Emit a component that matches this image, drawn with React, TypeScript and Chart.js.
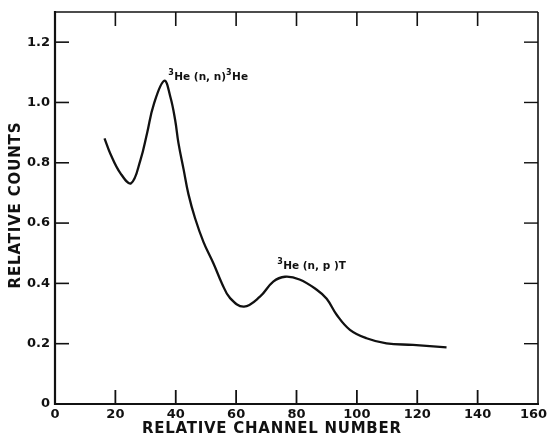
import React, { useEffect, useRef } from "react";
import { Chart, registerables } from "chart.js";

Chart.register(...registerables);

// ---- data ----
const channel = [16.4, 18.3, 21.7, 25.2, 28.3, 30.5, 32.7, 36.2, 38.2, 39.8, 40.9, 42.6, 44.2, 46.4, 49.2, 52.5, 55.3, 58.0, 62.6, 67.9, 72.3, 76.2, 81.0, 86.7, 90.0, 93.3, 97.7, 103.2, 109.8, 118.6, 129.7];
const counts = [0.881, 0.831, 0.765, 0.732, 0.809, 0.898, 0.993, 1.072, 1.019, 0.942, 0.865, 0.778, 0.696, 0.616, 0.537, 0.466, 0.4, 0.351, 0.323, 0.356, 0.406, 0.422, 0.413, 0.379, 0.349, 0.296, 0.246, 0.218, 0.201, 0.196, 0.188];
const xTicks = [0, 20, 40, 60, 80, 100, 120, 140, 160];
const yTicks = [0, 0.2, 0.4, 0.6, 0.8, 1.0, 1.2];
const xTitle = "RELATIVE CHANNEL NUMBER";
const yTitle = "RELATIVE COUNTS";
// annotation text pieces: [text, isSuperscript]
const label1: [string, boolean][] = [["3", true], ["He (n, n)", false], ["3", true], ["He", false]];
const label2: [string, boolean][] = [["3", true], ["He (n, p )T", false]];
// annotation anchors in data units
const label1At = { x: 37.5, y: 1.075 };
const label2At = { x: 73.6, y: 0.449 };

const INK = "#111";
const FONT = "'DejaVu Sans', Verdana, sans-serif";

function drawSpaced(ctx: CanvasRenderingContext2D, text: string, cx: number, cy: number, target: number) {
  (ctx as any).letterSpacing = "0px";
  const w0 = ctx.measureText(text).width;
  const ls = (target - w0) / (text.length - 1);
  (ctx as any).letterSpacing = ls + "px";
  const w = ctx.measureText(text).width - ls;
  ctx.textAlign = "left";
  ctx.textBaseline = "middle";
  ctx.fillText(text, cx - w / 2, cy);
  (ctx as any).letterSpacing = "0px";
}

function drawParts(ctx: CanvasRenderingContext2D, parts: [string, boolean][], x: number, y: number) {
  let px = x;
  ctx.textBaseline = "alphabetic";
  ctx.textAlign = "left";
  for (const [t, sup] of parts) {
    ctx.font = sup ? `bold 8px ${FONT}` : `bold 10.5px ${FONT}`;
    ctx.fillText(t, px, sup ? y - 5 : y);
    px += ctx.measureText(t).width + (sup ? 0.5 : 0);
  }
}

const decor = {
  id: "decor",
  afterDraw(chart: any) {
    const { ctx, chartArea: a, scales } = chart;
    const xs = scales.x;
    const ys = scales.y;
    ctx.save();
    ctx.strokeStyle = INK;
    ctx.fillStyle = INK;
    ctx.lineCap = "butt";
    const line = (x1: number, y1: number, x2: number, y2: number, w: number) => {
      ctx.lineWidth = w;
      ctx.beginPath();
      ctx.moveTo(x1, y1);
      ctx.lineTo(x2, y2);
      ctx.stroke();
    };
    // frame
    line(a.left, a.top - 1, a.left, a.bottom + 1, 2.2);
    line(a.left - 1, a.bottom, a.right + 1, a.bottom, 2.2);
    line(a.left, a.top, a.right, a.top, 1.6);
    line(a.right, a.top, a.right, a.bottom, 1.6);
    // inward ticks
    const L = 14;
    for (const v of xTicks) {
      if (v === xTicks[0] || v === xTicks[xTicks.length - 1]) continue;
      const px = xs.getPixelForValue(v);
      line(px, a.bottom, px, a.bottom - L, 1.8);
      line(px, a.top, px, a.top + L, 1.6);
    }
    for (const v of yTicks) {
      if (v === 0) continue;
      const py = ys.getPixelForValue(v);
      line(a.left, py, a.left + L, py, 1.6);
      line(a.right, py, a.right - L, py, 1.4);
    }
    // axis titles
    ctx.font = `bold 15px ${FONT}`;
    drawSpaced(ctx, xTitle, 271.5, 429.5, 259);
    ctx.save();
    ctx.translate(16, 205.5);
    ctx.rotate(-Math.PI / 2);
    drawSpaced(ctx, yTitle, 0, 0, 166);
    ctx.restore();
    // annotations
    drawParts(ctx, label1, xs.getPixelForValue(label1At.x), ys.getPixelForValue(label1At.y));
    drawParts(ctx, label2, xs.getPixelForValue(label2At.x), ys.getPixelForValue(label2At.y));
    ctx.restore();
  },
};

export default function App() {
  const ref = useRef<HTMLCanvasElement | null>(null);
  useEffect(() => {
    if (!ref.current) return;
    const chart = new Chart(ref.current, {
      type: "line",
      data: {
        datasets: [
          {
            data: channel.map((x, i) => ({ x, y: counts[i] })),
            borderColor: INK,
            borderWidth: 2.3,
            pointRadius: 0,
            fill: false,
            tension: 0.4,
          } as any,
        ],
      },
      options: {
        animation: false,
        responsive: false,
        layout: { padding: { top: 12, right: 9, left: 0, bottom: 0 } },
        plugins: { legend: { display: false }, tooltip: { enabled: false } },
        scales: {
          x: {
            type: "linear",
            min: 0,
            max: 160,
            afterBuildTicks: (s: any) => {
              s.ticks = xTicks.map((v) => ({ value: v }));
            },
            afterFit: (s: any) => {
              s.height = 35;
              s.paddingLeft = 0;
              s.paddingRight = 0;
            },
            grid: { display: false, drawTicks: false },
            border: { display: false },
            ticks: {
              padding: 3,
              color: INK,
              maxRotation: 0,
              autoSkip: false,
              font: { family: FONT, size: 13, weight: "bold" },
              // the last label sits against the page edge, as in the reference
              callback: (v: any) => (Number(v) === xTicks[xTicks.length - 1] ? String(v) + "\u2002\u2009" : String(v)),
            },
          },
          y: {
            type: "linear",
            min: 0,
            max: 1.3,
            afterBuildTicks: (s: any) => {
              s.ticks = yTicks.map((v) => ({ value: v }));
            },
            afterFit: (s: any) => {
              s.width = 55;
              s.paddingTop = 0;
              s.paddingBottom = 0;
            },
            grid: { display: false, drawTicks: false },
            border: { display: false },
            ticks: {
              padding: 5,
              color: INK,
              autoSkip: false,
              font: { family: FONT, size: 13, weight: "bold" },
              callback: (v: any) => (Number(v) === 0 ? "0" : Number(v).toFixed(1)),
            },
          },
        },
      } as any,
      plugins: [decor],
    });
    return () => chart.destroy();
  }, []);
  return (
    <div style={{ position: "absolute", left: 0, top: 0, width: 547, height: 439, background: "#fff" }}>
      <canvas ref={ref} width={547} height={439} style={{ display: "block" }} />
    </div>
  );
}
